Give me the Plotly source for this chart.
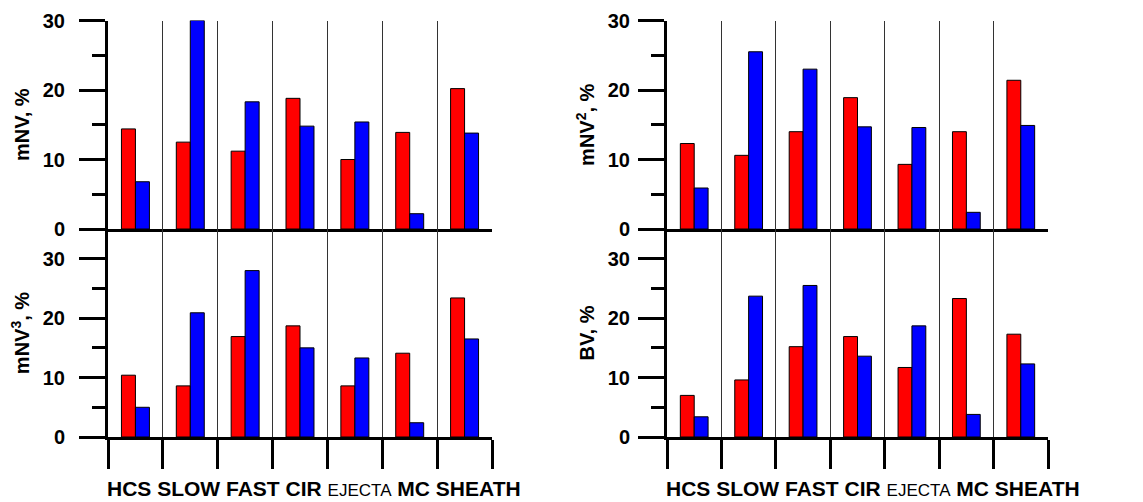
import plotly.graph_objects as go

categories = ["HCS", "SLOW", "FAST", "CIR", "EJECTA", "MC", "SHEATH"]
small_caps = ["EJECTA"]

mnv_red = [14.4, 12.5, 11.2, 18.8, 10.0, 13.9, 20.2]
mnv_blue = [6.8, 30.0, 18.3, 14.8, 15.4, 2.2, 13.8]

mnv2_red = [12.3, 10.6, 14.0, 18.9, 9.3, 14.0, 21.4]
mnv2_blue = [5.9, 25.5, 23.0, 14.7, 14.6, 2.4, 14.9]

mnv3_red = [10.4, 8.6, 16.9, 18.7, 8.6, 14.1, 23.4]
mnv3_blue = [5.0, 20.9, 28.0, 15.0, 13.3, 2.4, 16.5]

bv_red = [7.0, 9.6, 15.2, 16.9, 11.7, 23.3, 17.3]
bv_blue = [3.4, 23.7, 25.5, 13.6, 18.7, 3.8, 12.3]

panel_titles = ["mNV, %", "mNV<sup>2</sup>, %", "mNV<sup>3</sup>, %", "BV, %"]
y_ranges = [[0, 30], [0, 30], [0, 35], [0, 35]]
y_ticks = [0, 10, 20, 30]

RED = "#ff0000"
BLUE = "#0000ff"
FONT = "Liberation Sans"

tick_text = [
    f"<span style='font-size:17px'>{c}</span>" if c in small_caps else f"<b>{c}</b>"
    for c in categories
]
label_row = " ".join(tick_text)

W, H = 1143, 502
x_doms = [[108 / W, 492 / W], [667 / W, 1048 / W]]
y_doms = [[(H - 229) / H, (H - 20.5) / H], [(H - 437) / H, (H - 229) / H]]

series = [(mnv_red, mnv_blue), (mnv2_red, mnv2_blue), (mnv3_red, mnv3_blue), (bv_red, bv_blue)]

fig = go.Figure()
for i, (red, blue) in enumerate(series):
    sfx = "" if i == 0 else str(i + 1)
    for vals, col in ((red, RED), (blue, BLUE)):
        fig.add_trace(go.Bar(
            x=categories, y=vals, marker=dict(color=col, line=dict(color="black", width=1)),
            xaxis="x" + sfx, yaxis="y" + sfx, showlegend=False, hoverinfo="x+y",
        ))

layout = dict(
    width=W, height=H, margin=dict(l=0, r=0, t=0, b=0, pad=0, autoexpand=False),
    paper_bgcolor="white", plot_bgcolor="white",
    barmode="group", bargap=0.49, bargroupgap=0,
    showlegend=False,
)
annotations = []
for i in range(4):
    sfx = "" if i == 0 else str(i + 1)
    col = i % 2
    row = i // 2
    bottom = row == 1
    layout["xaxis" + sfx] = dict(
        domain=x_doms[col], anchor="y" + sfx, type="category",
        categoryorder="array", categoryarray=categories,
        tickson="boundaries", showgrid=True, gridcolor="#333333", gridwidth=1,
        showline=True, linecolor="black", linewidth=3,
        ticks="outside" if bottom else "", ticklen=29, tickwidth=3, tickcolor="black",
        showticklabels=False, automargin=False,
        zeroline=False, fixedrange=True,
    )
    layout["yaxis" + sfx] = dict(
        domain=y_doms[row], anchor="x" + sfx, range=y_ranges[i],
        tickmode="array", tickvals=y_ticks,
        showline=True, linecolor="black", linewidth=3,
        ticks="outside", ticklen=26, tickwidth=3, tickcolor="black",
        minor=dict(ticks="outside", ticklen=13, tickwidth=3, tickcolor="black", dtick=5, tick0=0, showgrid=False),
        showgrid=False, zeroline=False, automargin=False,
        tickfont=dict(family=FONT, size=20, color="black", weight="bold"),
        ticklabelstandoff=10 if col == 0 else 4,
        title=dict(text=panel_titles[i], font=dict(family=FONT, size=20, color="black", weight="bold"), standoff=8),
        fixedrange=True,
    )
    if bottom:
        annotations.append(dict(
            text=label_row, xref="x" + sfx + " domain", yref="y" + sfx + " domain",
            x=0, y=0, xanchor="left", yanchor="middle", xshift=-3, yshift=-51,
            showarrow=False, font=dict(family=FONT, size=21, color="black"),
        ))

layout["annotations"] = annotations
fig.update_layout(**layout)
fig.write_html(
    "out.html",
    config={"displayModeBar": False},
    post_script="document.body.style.margin='0';document.body.style.overflow='hidden';",
)
